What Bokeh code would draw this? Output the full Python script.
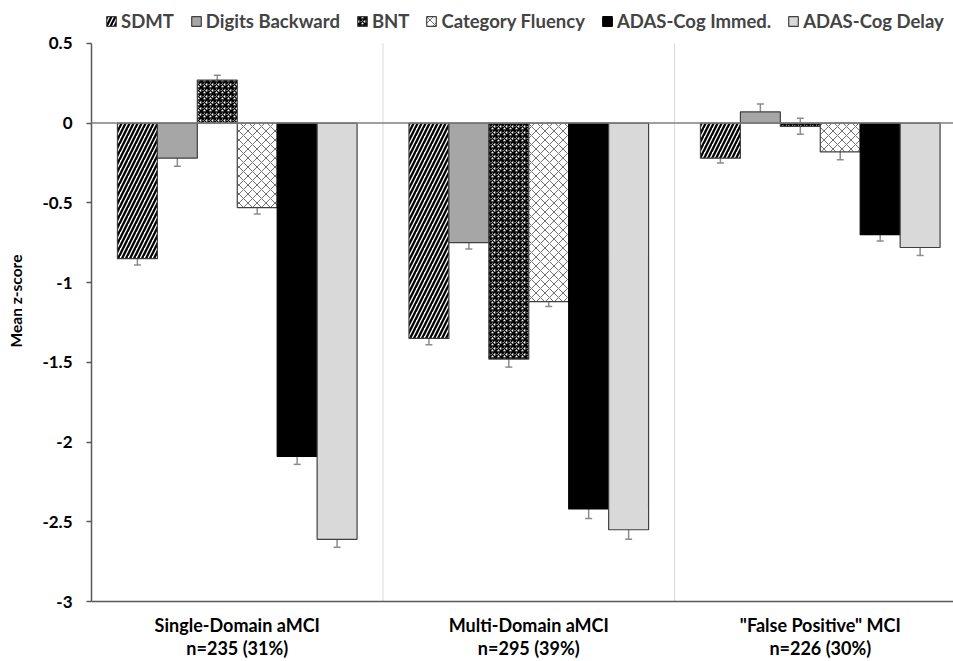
from bokeh.plotting import figure
from bokeh.models import (ColumnDataSource, Range1d, FixedTicker, Span,
                          Whisker, TeeHead)
from bokeh.embed import file_html
from bokeh.resources import INLINE

groups = ["Single-Domain aMCI\nn=235 (31%)", "Multi-Domain aMCI\nn=295 (39%)",
          "\"False Positive\" MCI\nn=226 (30%)"]
series = ["SDMT", "Digits Backward", "BNT", "Category Fluency",
          "ADAS-Cog Immed.", "ADAS-Cog Delay"]
sdmt = [-0.85, -1.35, -0.22]
digits = [-0.22, -0.75, 0.07]
bnt = [0.27, -1.48, -0.02]
catflu = [-0.53, -1.12, -0.18]
adas_imm = [-2.09, -2.42, -0.70]
adas_del = [-2.61, -2.55, -0.78]
sdmt_se = [0.04, 0.04, 0.03]
digits_se = [0.05, 0.04, 0.05]
bnt_se = [0.03, 0.05, 0.05]
catflu_se = [0.04, 0.03, 0.05]
adas_imm_se = [0.05, 0.06, 0.04]
adas_del_se = [0.05, 0.06, 0.05]
y_ticks = [-3, -2.5, -2, -1.5, -1, -0.5, 0, 0.5]
y_tick_labels = ["-3", "-2.5", "-2", "-1.5", "-1", "-0.5", "0", "0.5"]

values = [sdmt, digits, bnt, catflu, adas_imm, adas_del]
errors = [sdmt_se, digits_se, bnt_se, catflu_se, adas_imm_se, adas_del_se]

FONT = "Lato"
y_lo, y_hi = y_ticks[0], y_ticks[-1]

styles = [
    dict(fill_color="white", hatch_pattern="right_diagonal_line", hatch_color="black",
         hatch_scale=8, hatch_weight=2.3, line_color="#404040"),
    dict(fill_color="#a6a6a6", line_color="#404040"),
    dict(fill_color="white", hatch_pattern="criss_cross", hatch_color="black",
         hatch_scale=6, hatch_weight=1.4, line_color="#404040"),
    dict(fill_color="white", hatch_pattern="diagonal_cross", hatch_color="#707070",
         hatch_scale=9, hatch_weight=1, line_color="#404040"),
    dict(fill_color="black", line_color="black"),
    dict(fill_color="#d9d9d9", line_color="#404040"),
]

# frame spans the full figure height above the x axis; the extra headroom
# above 0.5 holds the legend (as in the reference)
p = figure(width=953, height=661, output_backend="svg", toolbar_location=None,
           x_range=Range1d(0, 2.957), y_range=Range1d(y_lo, y_hi + 43 / 160),
           min_border_left=91, min_border_right=0, min_border_top=0,
           min_border_bottom=59)
p.outline_line_color = None
p.xgrid.visible = False
p.ygrid.visible = False

# group separators
p.segment(x0=[1, 2], y0=y_lo, x1=[1, 2], y1=y_hi, line_color="#d9d9d9",
          line_width=1, level="underlay")

bw = 0.137
centers = [i + 0.5 for i in range(len(groups))]
for j, (name, vals, errs, st) in enumerate(zip(series, values, errors, styles)):
    xs = [c + (j - 2.5) * bw for c in centers]
    src = ColumnDataSource(dict(x=xs, top=vals,
                                upper=[v + e for v, e in zip(vals, errs)],
                                lower=[v - e for v, e in zip(vals, errs)]))
    p.vbar(x="x", top="top", bottom=0, width=bw, source=src, line_width=1.2,
           legend_label=name, **st)
    w = Whisker(base="x", upper="upper", lower="lower", source=src,
                line_color="#8c8c8c", line_width=1.5,
                upper_head=TeeHead(size=7, line_color="#8c8c8c", line_width=1.5),
                lower_head=TeeHead(size=7, line_color="#8c8c8c", line_width=1.5))
    p.add_layout(w)

p.add_layout(Span(location=0, dimension="width", line_color="#7f7f7f", line_width=1.5))

leg = p.legend[0]
leg.orientation = "horizontal"
leg.location = (14, 569)
leg.padding = 0
leg.margin = 0
leg.spacing = 16
leg.label_standoff = 4
leg.glyph_width = 12
leg.glyph_height = 12
leg.border_line_color = None
leg.background_fill_alpha = 0
leg.label_text_font = FONT
leg.label_text_font_style = "bold"
leg.label_text_font_size = "18.5px"
leg.label_height = 20

# y axis
ya = p.yaxis[0]
ya.ticker = FixedTicker(ticks=y_ticks)
ya.bounds = (y_lo, y_hi)
ya.major_label_overrides = {t: l for t, l in zip(y_ticks, y_tick_labels)}
ya.minor_tick_line_color = None
ya.major_tick_in = 0
ya.major_tick_out = 5
ya.major_tick_line_color = "#595959"
ya.axis_line_color = "#595959"
ya.axis_line_width = 1.5
ya.major_tick_line_width = 1.5
ya.major_label_standoff = 14
ya.major_label_text_font = FONT
ya.major_label_text_font_style = "bold"
ya.major_label_text_font_size = "17px"
ya.major_label_text_color = "black"
ya.axis_label = "Mean z-score"
ya.axis_label_text_font = FONT
ya.axis_label_text_font_style = "bold"
ya.axis_label_text_font_size = "15.5px"
ya.axis_label_standoff = 14
ya.axis_label_text_color = "black"

# x axis
xa = p.xaxis[0]
xa.ticker = FixedTicker(ticks=centers)
xa.major_label_overrides = {c: g for c, g in zip(centers, groups)}
xa.minor_tick_line_color = None
xa.major_tick_line_color = None
xa.major_tick_in = 0
xa.major_tick_out = 0
xa.minor_tick_in = 0
xa.minor_tick_out = 0
xa.axis_line_color = "#595959"
xa.axis_line_width = 1.5
xa.major_label_standoff = 12
xa.major_label_text_font = FONT
xa.major_label_text_font_style = "bold"
xa.major_label_text_font_size = "18px"
xa.major_label_text_line_height = 1.05
xa.major_label_text_color = "black"

open("out.html", "w").write(file_html(p, INLINE))
